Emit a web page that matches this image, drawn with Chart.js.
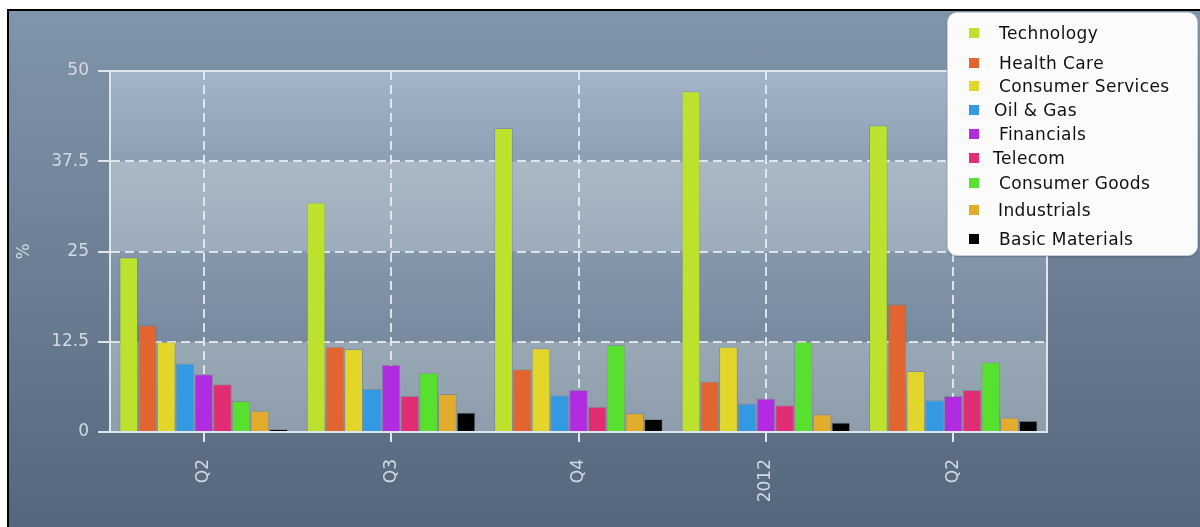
<!DOCTYPE html>
<html>
<head>
<meta charset="utf-8">
<script src="https://cdn.jsdelivr.net/npm/chart.js@4"></script>
<style>
  html, body { margin: 0; padding: 0; background: #fff; overflow: hidden; }
  #frame {
    position: absolute; left: 7px; top: 9px;
    width: 1191px; height: 516px;
    border-left: 2px solid #000; border-top: 2px solid #000;
    background: linear-gradient(to bottom, #8195aa 0%, #6c7f94 50%, #55677c 100%);
  }
  #legend {
    position: absolute; left: 947px; top: 12px;
    width: 249px; height: 242px;
    background: #fbfbfb; border: 1px solid #c9ced4; border-radius: 10px;
    box-shadow: 0 1px 2px rgba(0,0,0,0.2);
    font-family: "DejaVu Sans", Verdana, sans-serif; font-size: 17px; letter-spacing: 0.4px; color: #111;
  }
  #legend .item { position: absolute; white-space: nowrap; line-height: 20px; height: 20px; }
  #legend .box { position: absolute; width: 10px; height: 10px; }
</style>
</head>
<body>
<div id="frame"><canvas id="chart"></canvas></div>
<div id="legend"></div>
<script>
// categories along the x axis
const periods = ["Q2", "Q3", "Q4", "2012", "Q2"];

// sectors and their colours
const sectors = ["Technology", "Health Care", "Consumer Services", "Oil & Gas", "Financials",
  "Telecom", "Consumer Goods", "Industrials", "Basic Materials"];
const sectorColors = ["#bde22d", "#e2642e", "#e2d62a", "#3399e2", "#b12be0",
  "#e02d73", "#57e02d", "#e2ad2d", "#000000"];

// weight in %, one array per sector, one value per period
const technology = [24.2, 31.8, 42.1, 47.2, 42.5];
const healthCare = [14.8, 11.8, 8.7, 7.0, 17.7];
const consumerServices = [12.5, 11.5, 11.6, 11.8, 8.45];
const oilGas = [9.5, 5.95, 5.1, 3.9, 4.4];
const financials = [8.0, 9.3, 5.8, 4.65, 5.0];
const telecom = [6.6, 5.0, 3.5, 3.7, 5.8];
const consumerGoods = [4.3, 8.2, 12.05, 12.5, 9.65];
const industrials = [2.95, 5.25, 2.6, 2.45, 2.0];
const basicMaterials = [0.4, 2.7, 1.8, 1.3, 1.55];

const yTicks = [0, 12.5, 25, 37.5, 50];

const seriesValues = [technology, healthCare, consumerServices, oilGas, financials,
  telecom, consumerGoods, industrials, basicMaterials];

const axisText = "#d3dae2";
const gridColor = "rgba(236,240,244,0.85)";

// alternating shaded bands behind the plot
const bandsPlugin = {
  id: "bands",
  beforeDraw(chart) {
    const { ctx, chartArea, scales } = chart;
    const bands = [
      ["#99a8b5", "#8e9dab"],
      ["#8597ab", "#788a9f"],
      ["#abb9c6", "#9cacba"],
      ["#a3b5c8", "#8d9fb3"],
    ];
    for (let i = 0; i < yTicks.length - 1; i++) {
      const yTop = scales.y.getPixelForValue(yTicks[i + 1]);
      const yBot = scales.y.getPixelForValue(yTicks[i]);
      const g = ctx.createLinearGradient(0, yTop, 0, yBot);
      g.addColorStop(0, bands[i][0]);
      g.addColorStop(1, bands[i][1]);
      ctx.fillStyle = g;
      ctx.fillRect(chartArea.left, yTop, chartArea.right - chartArea.left, yBot - yTop);
    }
  },
  afterDraw(chart) {
    const { ctx, chartArea } = chart;
    ctx.save();
    ctx.strokeStyle = "#dfe5eb";
    ctx.lineWidth = 2;
    ctx.strokeRect(chartArea.left, chartArea.top, chartArea.right - chartArea.left, chartArea.bottom - chartArea.top);
    ctx.restore();
  }
};

const datasets = sectors.map((name, i) => ({
  label: name,
  data: seriesValues[i],
  backgroundColor: sectorColors[i],
  borderColor: "rgba(0,0,0,0.12)",
  borderWidth: 1,
  barPercentage: 1.0,
  categoryPercentage: 0.9,
}));

new Chart(document.getElementById("chart"), {
  type: "bar",
  data: { labels: periods, datasets: datasets },
  plugins: [bandsPlugin],
  options: {
    responsive: true,
    maintainAspectRatio: false,
    animation: false,
    layout: { padding: { top: 60, right: 153, bottom: 0, left: 0 } },
    plugins: {
      legend: { display: false },
      tooltip: { enabled: false },
    },
    scales: {
      x: {
        afterFit: (s) => { s.height = 95; },
        grid: {
          offset: false,
          color: gridColor,
          lineWidth: 2,
          tickLength: 10,
          tickColor: "#dfe5eb",
        },
        border: { display: true, color: "#dfe5eb", width: 2, dash: [9, 5] },
        ticks: {
          color: axisText,
          minRotation: 90,
          maxRotation: 90,
          padding: 17,
          font: { family: "DejaVu Sans", size: 17 },
        },
      },
      y: {
        min: 0,
        max: 50,
        afterFit: (s) => { s.width = 101; },
        afterBuildTicks: (s) => { s.ticks = yTicks.map((v) => ({ value: v })); },
        grid: {
          color: gridColor,
          lineWidth: 2,
          tickLength: 12,
          tickColor: "#dfe5eb",
        },
        border: { display: true, color: "#dfe5eb", width: 2, dash: [9, 5] },
        ticks: {
          color: axisText,
          padding: 9,
          font: { family: "DejaVu Sans", size: 17 },
          callback: (v) => String(v),
        },
        title: {
          display: true,
          text: "%",
          color: axisText,
          padding: 5,
          font: { family: "DejaVu Sans", size: 17 },
        },
      },
    },
  },
});

// legend box drawn as html over the top right corner
const legendRows = [19.7, 49.7, 73, 97.3, 121.3, 144.7, 169.7, 197, 225.7];
const legendTextX = [51, 51, 51, 46, 51, 45, 51, 50, 51];
const legend = document.getElementById("legend");
sectors.forEach((name, i) => {
  const box = document.createElement("div");
  box.className = "box";
  box.style.left = "21px";
  box.style.top = (legendRows[i] - 5) + "px";
  box.style.background = sectorColors[i];
  legend.appendChild(box);
  const item = document.createElement("div");
  item.className = "item";
  item.style.left = legendTextX[i] + "px";
  item.style.top = (legendRows[i] - 10) + "px";
  item.textContent = name;
  legend.appendChild(item);
});
</script>
</body>
</html>
